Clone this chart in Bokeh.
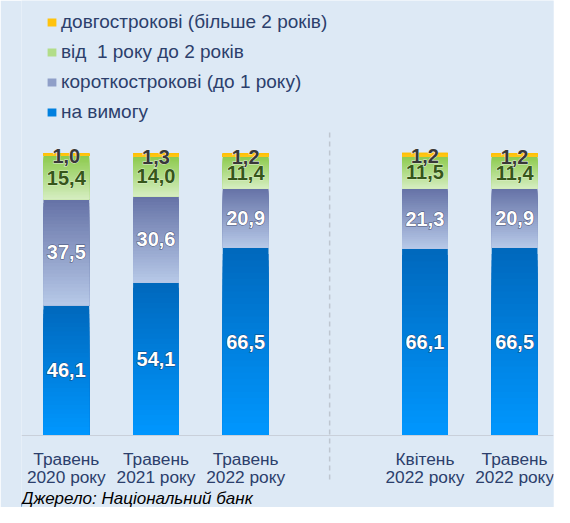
from bokeh.plotting import figure
from bokeh.models import ColumnDataSource, Range1d, FixedTicker, Legend, LegendItem, Label
from bokeh.core.properties import value
from bokeh.embed import file_html
from bokeh.resources import INLINE

# ---------------- data ----------------
periods = ["Травень\n2020 року", "Травень\n2021 року", "Травень\n2022 року",
           "Квітень\n2022 року", "Травень\n2022 року"]
groups = [0, 0, 0, 1, 1]
on_demand = [46.1, 54.1, 66.5, 66.1, 66.5]
short_term = [37.5, 30.6, 20.9, 21.3, 20.9]
one_to_two = [15.4, 14.0, 11.4, 11.5, 11.4]
long_term = [1.0, 1.3, 1.2, 1.2, 1.2]
series_names = ["на вимогу", "короткострокові (до 1 року)",
                "від  1 року до 2 років", "довгострокові (більше 2 років)"]
source_note = "Джерело: Національний банк"

# ---------------- style ----------------
BG = "#dde9f5"
FONT = "Liberation Sans"
NAVY = "#2c3f6c"
# (top colour, bottom colour) for each series
GRAD = [("#0068bc", "#0097ff"),
        ("#6572a6", "#b7c9e8"),
        ("#8cca4c", "#d6eec2"),
        ("#ffbf00", "#ffc61a")]
LABEL_STYLE = [("#ffffff", "#1d3d6b"),
               ("#ffffff", "#3c4566"),
               ("#36561a", "#dff0cf"),
               ("#383838", "#eeeeee")]
N = 30
BAR_W = 0.51


def mix(c1, c2, t):
    a = [int(c1[i:i + 2], 16) for i in (1, 3, 5)]
    b = [int(c2[i:i + 2], 16) for i in (1, 3, 5)]
    return "#" + "".join(f"{round(x + (y - x) * t):02x}" for x, y in zip(a, b))


xs = [i + g for i, g in enumerate(groups)]
series = [on_demand, short_term, one_to_two, long_term]

p = figure(width=554, height=507, output_backend="svg", toolbar_location=None,
           x_range=Range1d(-0.5, 5.434), y_range=Range1d(-25.5, 154.0),
           y_axis_location=None,
           min_border_left=21, min_border_right=1, min_border_top=0, min_border_bottom=0,
           background_fill_color=BG, border_fill_color=BG, outline_line_color=None)
p.grid.visible = False

# separator between the two groups
sep_x = (xs[2] + xs[3]) / 2 - 0.063
p.segment(x0=[sep_x], y0=[107.3], x1=[sep_x], y1=[-16.6],
          line_color="#bec6d0", line_width=1.5, line_dash="5 4")

renderers = []
base = [0.0] * len(xs)
label_sources = []
for s, vals in enumerate(series):
    top_c, bot_c = GRAD[s]
    d = dict(x=[], bottom=[], top=[], color=[])
    for i, v in enumerate(vals):
        for k in range(N):
            frac = (N - k) / N
            t = (N - k - 0.5) / N
            d["x"].append(xs[i])
            d["bottom"].append(base[i])
            d["top"].append(base[i] + v * frac)
            d["color"].append(mix(bot_c, top_c, t))
    r = p.vbar(x="x", bottom="bottom", top="top", width=BAR_W, source=ColumnDataSource(d),
               fill_color="color", line_color=None)
    renderers.append(r)
    label_sources.append(ColumnDataSource(dict(
        x=xs, y=[b + v / 2 for b, v in zip(base, vals)],
        text=[f"{v:.1f}".replace(".", ",") for v in vals])))
    base = [b + v for b, v in zip(base, vals)]

for s, src in enumerate(label_sources):
    col, outl = LABEL_STYLE[s]
    common = dict(x="x", y="y", text="text", source=src, text_align="center",
                  text_baseline="middle", text_font=value(FONT), text_font_style="bold",
                  text_font_size="20px", y_offset=2 if s == 3 else 0)
    # halo underneath, then the clean label on top
    p.text(text_color=outl, text_outline_color=outl, text_alpha=0.85, **common)
    p.text(text_color=col, **common)

# x axis placed at zero inside the frame
ax = p.xaxis[0]
ax.fixed_location = 0
ax.ticker = FixedTicker(ticks=xs)
ax.major_label_overrides = {x: lab for x, lab in zip(xs, periods)}
ax.major_tick_line_color = None
ax.minor_tick_line_color = None
ax.axis_line_color = "#c9d0da"
ax.major_label_text_font = FONT
ax.major_label_text_font_size = "17.3px"
ax.major_label_text_color = NAVY
ax.major_label_text_line_height = 0.9
ax.major_label_standoff = 8

items = []
for s in (3, 2, 1, 0):
    items.append(LegendItem(label=series_names[s], renderers=[renderers[s]], index=N // 2))
legend = Legend(items=items, location=(25, 384), orientation="vertical",
                background_fill_alpha=0, border_line_color=None,
                label_text_font=FONT, label_text_font_size="19px", label_text_color=NAVY,
                glyph_width=11, glyph_height=10, label_height=22, spacing=8,
                padding=0, margin=0, label_standoff=4)
p.add_layout(legend)

p.add_layout(Label(x=0, y=9, x_units="screen", y_units="screen", text=source_note,
                   text_font=FONT, text_font_style="italic", text_font_size="17px",
                   text_color="#000000", text_baseline="alphabetic"))

open("out.html", "w").write(file_html(p, INLINE))
